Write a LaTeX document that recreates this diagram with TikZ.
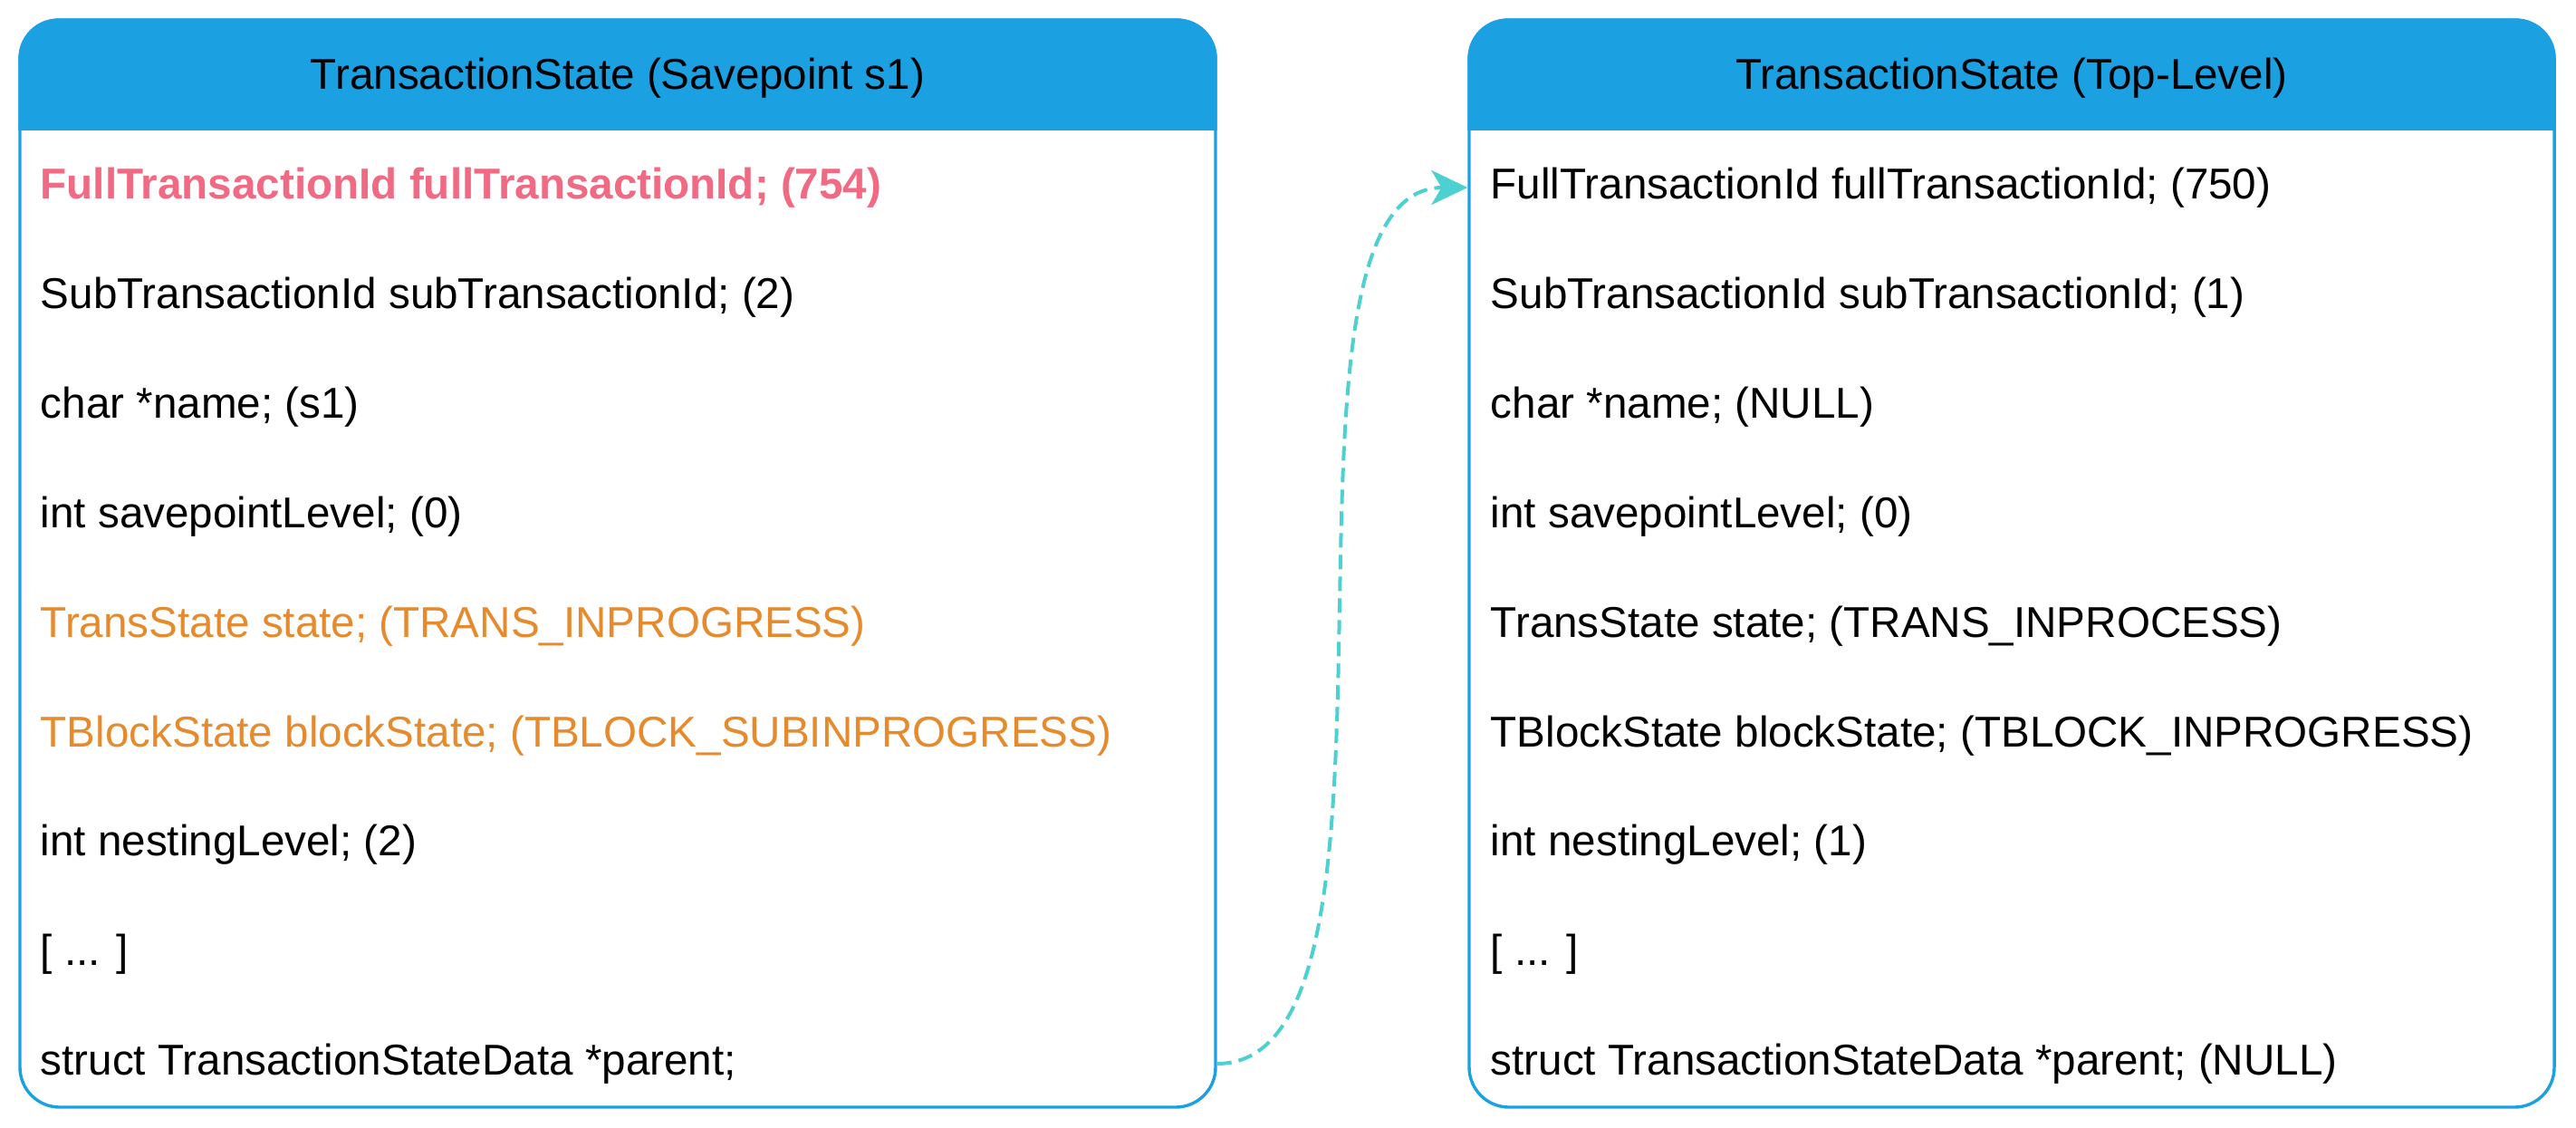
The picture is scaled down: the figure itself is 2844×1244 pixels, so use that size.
\documentclass[tikz,border=0pt]{standalone}
\usepackage{fontspec}
\setmainfont{Liberation Sans}
\usetikzlibrary{arrows.meta}

\definecolor{hdrblue}{HTML}{1BA1E2}
\definecolor{keypink}{HTML}{F06A84}
\definecolor{changeorange}{HTML}{E68A2E}
\definecolor{linkcyan}{HTML}{4CD0D0}

\begin{document}
\begin{tikzpicture}[x=0.25pt,y=-0.25pt,font=\fontsize{11.9}{14}\selectfont]

      \useasboundingbox (0,0) rectangle (2844,1244);

      \begin{scope}[every node/.style={draw=hdrblue,line width=0.85pt,rounded corners=11pt,minimum height=300pt}]
        \node[minimum width=330pt] (lbox) at (682,622) {};
        \node[minimum width=299.5pt] (rbox) at (2221,622) {};
      \end{scope}

      % header bars
      \begin{scope}
        \clip (0,0) rectangle (2844,143);
        \fill[hdrblue,rounded corners=11pt] (lbox.north west) rectangle (lbox.south east);
        \fill[hdrblue,rounded corners=11pt] (rbox.north west) rectangle (rbox.south east);
      \end{scope}

      \node (lhead) at (682,86) {TransactionState (Savepoint s1)};
      \node (rhead) at (2221,86) {TransactionState (Top-Level)};

      \begin{scope}[every node/.style={anchor=west,inner sep=0pt}]
        \node[keypink,font=\fontsize{11.9}{14}\selectfont\bfseries] (l1) at (44,207) {FullTransactionId fullTransactionId; (754)};
        \node (l2) at (44,328) {SubTransactionId subTransactionId; (2)};
        \node (l3) at (44,449) {char *name; (s1)};
        \node (l4) at (44,570) {int savepointLevel; (0)};
        \node[changeorange] (l5) at (44,691) {TransState state; (TRANS\_INPROGRESS)};
        \node[changeorange] (l6) at (44,812) {TBlockState blockState; (TBLOCK\_SUBINPROGRESS)};
        \node (l7) at (44,932) {int nestingLevel; (2)};
        \node (l8) at (44,1053) {[ ... ]};
        \node (l9) at (44,1174) {struct TransactionStateData *parent;};

        \node (r1) at (1645,207) {FullTransactionId fullTransactionId; (750)};
        \node (r2) at (1645,328) {SubTransactionId subTransactionId; (1)};
        \node (r3) at (1645,449) {char *name; (NULL)};
        \node (r4) at (1645,570) {int savepointLevel; (0)};
        \node (r5) at (1645,691) {TransState state; (TRANS\_INPROCESS)};
        \node (r6) at (1645,812) {TBlockState blockState; (TBLOCK\_INPROGRESS)};
        \node (r7) at (1645,932) {int nestingLevel; (1)};
        \node (r8) at (1645,1053) {[ ... ]};
        \node (r9) at (1645,1174) {struct TransactionStateData *parent; (NULL)};
      \end{scope}

      % parent pointer
      \draw[linkcyan,line width=1pt,dash pattern=on 4pt off 2pt,
            -{Stealth[length=10pt,width=9.5pt,inset=2.8pt]}]
        (l9 -| lbox.east) .. controls +(245,0) and +(-245,0) .. (r1 -| rbox.west);

\end{tikzpicture}
\end{document}
